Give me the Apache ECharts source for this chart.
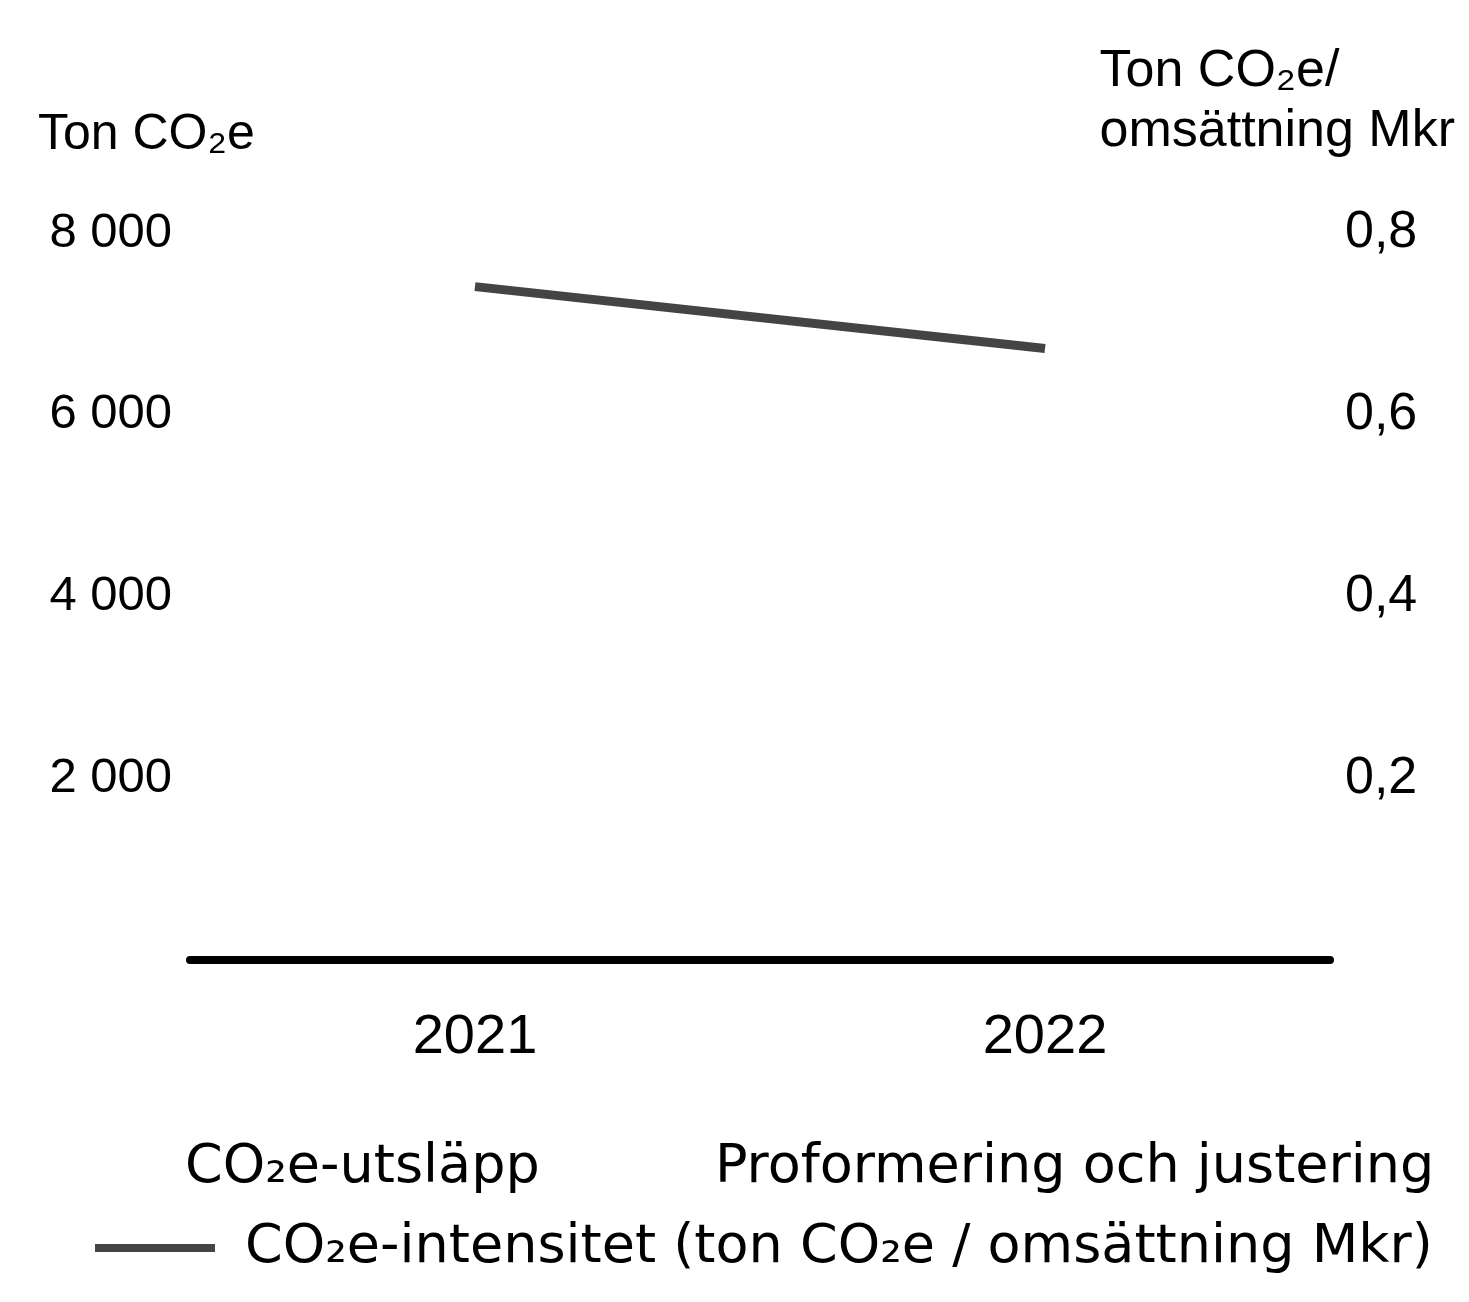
<!DOCTYPE html>
<html>
<head>
<meta charset="utf-8">
<script src="https://cdn.jsdelivr.net/npm/echarts@6/dist/echarts.min.js"></script>
<style>html,body{margin:0;padding:0;background:#fff;}#c{width:1469px;height:1302px;}</style>
</head>
<body>
<div id="c"></div>
<script>
const categories = ['2021', '2022'];
const emissions = [4800, 4600];
const proforma = [300, 200];
const intensity = [0.741, 0.673];
const leftTicks = [0, 2000, 4000, 6000, 8000];
const rightTicks = [0, 0.2, 0.4, 0.6, 0.8];

const FONT = 'Liberation Sans';
const LFONT = 'DejaVu Sans';
const chart = echarts.init(document.getElementById('c'));
chart.setOption({
  backgroundColor: '#fff',
  animation: false,
  textStyle: { fontFamily: FONT, color: '#000' },
  grid: { left: 190, right: 139, top: 233, bottom: 342 },
  xAxis: {
    type: 'category', data: categories, z: 5,
    axisLine: { lineStyle: { color: '#000', width: 8 } },
    axisTick: { show: false },
    axisLabel: { fontSize: 56, color: '#000', margin: 50, fontFamily: FONT }
  },
  yAxis: [{
    type: 'value', min: leftTicks[0], max: leftTicks[leftTicks.length - 1], interval: 2000,
    axisLine: { show: false }, axisTick: { show: false }, splitLine: { show: false },
    axisLabel: { fontSize: 49, color: '#000', margin: 18, fontFamily: FONT, showMinLabel: false,
      formatter: v => v === 0 ? '' : String(v).replace(/\B(?=(\d{3})+(?!\d))/g, ' ') }
  }, {
    type: 'value', min: rightTicks[0], max: rightTicks[rightTicks.length - 1], interval: 0.2,
    axisLine: { show: false }, axisTick: { show: false }, splitLine: { show: false },
    axisLabel: { fontSize: 52, color: '#000', margin: 15, fontFamily: FONT, showMinLabel: false,
      formatter: v => v === 0 ? '' : v.toFixed(1).replace('.', ',') }
  }],
  legend: [{
    left: 150, top: 1136, itemWidth: 25, itemHeight: 25, data: ['CO₂e-utsläpp'],
    textStyle: { fontSize: 54, color: '#000', fontFamily: LFONT }
  }, {
    left: 680, top: 1136, itemWidth: 25, itemHeight: 25, data: ['Proformering och justering'],
    textStyle: { fontSize: 54, color: '#000', fontFamily: LFONT }
  }, {
    left: 90, top: 1216, itemWidth: 120, itemHeight: 8,
    data: [{ name: 'CO₂e-intensitet (ton CO₂e / omsättning Mkr)', icon: 'rect', itemStyle: { color: '#444' } }],
    textStyle: { fontSize: 54, color: '#000', fontFamily: LFONT, padding: [0, 0, 0, 25] }
  }],
  graphic: [{
    type: 'text', left: 38, top: 110,
    style: { text: 'Ton CO₂e', font: '50px "Liberation Sans"', fill: '#000' }
  }, {
    type: 'text', right: 14, top: 42,
    style: { text: 'Ton CO₂e/\nomsättning Mkr', font: '52px "Liberation Sans"', fill: '#000', align: 'right', lineHeight: 60 }
  }],
  series: [{
    name: 'CO₂e-utsläpp', type: 'bar', stack: 's', data: emissions, barWidth: 250,
    itemStyle: { color: '#fff' }
  }, {
    name: 'Proformering och justering', type: 'bar', stack: 's', data: proforma, barWidth: 250,
    itemStyle: { color: '#fff' }
  }, {
    name: 'CO₂e-intensitet (ton CO₂e / omsättning Mkr)', type: 'line', yAxisIndex: 1, data: intensity,
    symbol: 'none', lineStyle: { color: '#444', width: 9 }, itemStyle: { color: '#444' }
  }]
});
</script>
</body>
</html>
